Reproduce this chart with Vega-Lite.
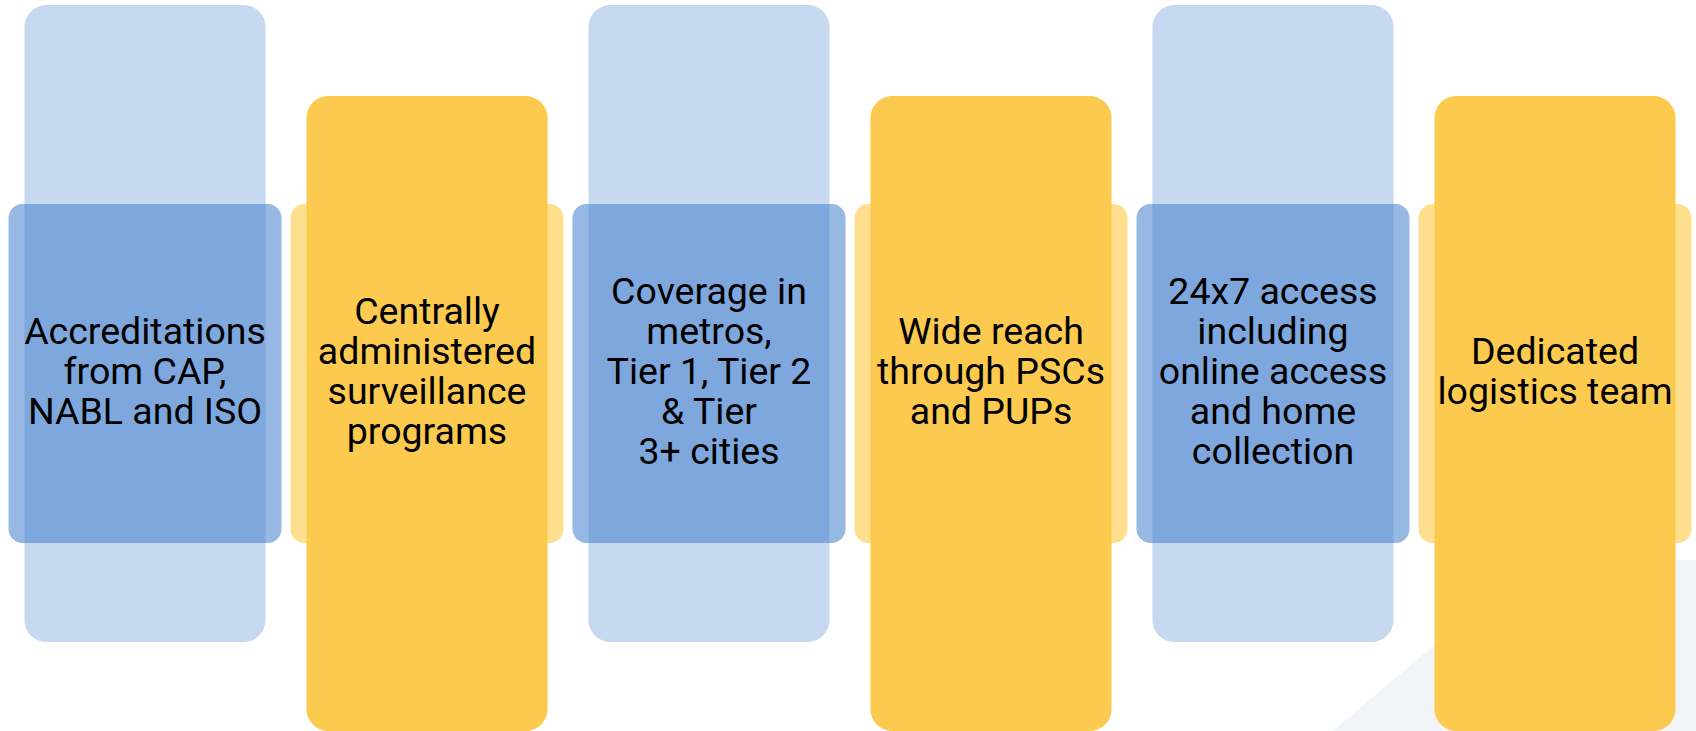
{
  "$schema": "https://vega.github.io/schema/vega-lite/v6.json",
  "width": 1692,
  "height": 731,
  "autosize": {"type": "none"},
  "padding": {"left": 4, "right": 0, "top": 0, "bottom": 0},
  "background": "white",
  "config": {"view": {"stroke": null}},
  "datasets": {
    "blocks": [
      {"id": 1, "kind": "blue", "label": "Accreditations\nfrom CAP,\nNABL and ISO"},
      {"id": 2, "kind": "yellow", "label": "Centrally\nadministered\nsurveillance\nprograms"},
      {"id": 3, "kind": "blue", "label": "Coverage in\nmetros,\nTier 1, Tier 2\n& Tier\n 3+ cities"},
      {"id": 4, "kind": "yellow", "label": "Wide reach\nthrough PSCs\nand PUPs"},
      {"id": 5, "kind": "blue", "label": "24x7 access\nincluding\nonline access\nand home\ncollection"},
      {"id": 6, "kind": "yellow", "label": "Dedicated\nlogistics team"}
    ],
    "backdrop": [
      {"px": 1333, "top": 731},
      {"px": 1535, "top": 560},
      {"px": 1696, "top": 560}
    ]
  },
  "resolve": {"scale": {"x": "independent"}},
  "layer": [
    {
      "data": {"name": "backdrop"},
      "mark": {"type": "area", "color": "#F1F4F9", "opacity": 1, "interpolate": "linear"},
      "encoding": {
        "x": {"field": "px", "type": "quantitative", "scale": {"domain": [4, 1696], "nice": false, "zero": false}, "axis": null},
        "y": {"field": "top", "type": "quantitative", "scale": {"domain": [0, 731], "reverse": true, "nice": false, "zero": false}, "axis": null},
        "y2": {"datum": 731}
      }
    },
    {
      "data": {"name": "blocks"},
      "encoding": {
        "x": {"field": "id", "type": "ordinal", "axis": null,
              "scale": {"paddingInner": 0.0319, "paddingOuter": 0.016}}
      },
      "layer": [
        {
          "transform": [{"filter": "datum.kind === 'blue'"}],
          "mark": {"type": "bar", "color": "#C6D9F0", "cornerRadius": 22, "width": {"band": 0.883}},
          "encoding": {
            "y": {"datum": 5, "type": "quantitative"},
            "y2": {"datum": 642}
          }
        },
        {
          "transform": [{"filter": "datum.kind === 'yellow'"}],
          "mark": {"type": "bar", "color": "#FFDE8E", "cornerRadius": 14},
          "encoding": {
            "y": {"datum": 204, "type": "quantitative"},
            "y2": {"datum": 543}
          }
        },
        {
          "transform": [{"filter": "datum.kind === 'blue'"}],
          "mark": {"type": "bar", "color": "#4A85CF", "opacity": 0.58, "cornerRadius": 14},
          "encoding": {
            "y": {"datum": 204, "type": "quantitative"},
            "y2": {"datum": 543}
          }
        },
        {
          "transform": [{"filter": "datum.kind === 'yellow'"}],
          "mark": {"type": "bar", "color": "#FCCA4F", "cornerRadius": 22, "width": {"band": 0.883}},
          "encoding": {
            "y": {"datum": 96, "type": "quantitative"},
            "y2": {"datum": 731}
          }
        },
        {
          "transform": [{"filter": "length(split(datum.label, '\\n')) == 2"}],
          "mark": {"type": "text", "font": "Roboto", "fontSize": 37.5, "lineHeight": 40, "lineBreak": "\n", "color": "black", "align": "center", "baseline": "middle"},
          "encoding": {"y": {"datum": 353, "type": "quantitative"}, "text": {"field": "label"}}
        },
        {
          "transform": [{"filter": "length(split(datum.label, '\\n')) == 3"}],
          "mark": {"type": "text", "font": "Roboto", "fontSize": 37.5, "lineHeight": 40, "lineBreak": "\n", "color": "black", "align": "center", "baseline": "middle"},
          "encoding": {"y": {"datum": 333, "type": "quantitative"}, "text": {"field": "label"}}
        },
        {
          "transform": [{"filter": "length(split(datum.label, '\\n')) == 4"}],
          "mark": {"type": "text", "font": "Roboto", "fontSize": 37.5, "lineHeight": 40, "lineBreak": "\n", "color": "black", "align": "center", "baseline": "middle"},
          "encoding": {"y": {"datum": 313, "type": "quantitative"}, "text": {"field": "label"}}
        },
        {
          "transform": [{"filter": "length(split(datum.label, '\\n')) == 5"}],
          "mark": {"type": "text", "font": "Roboto", "fontSize": 37.5, "lineHeight": 40, "lineBreak": "\n", "color": "black", "align": "center", "baseline": "middle"},
          "encoding": {"y": {"datum": 293, "type": "quantitative"}, "text": {"field": "label"}}
        }
      ]
    }
  ]
}
